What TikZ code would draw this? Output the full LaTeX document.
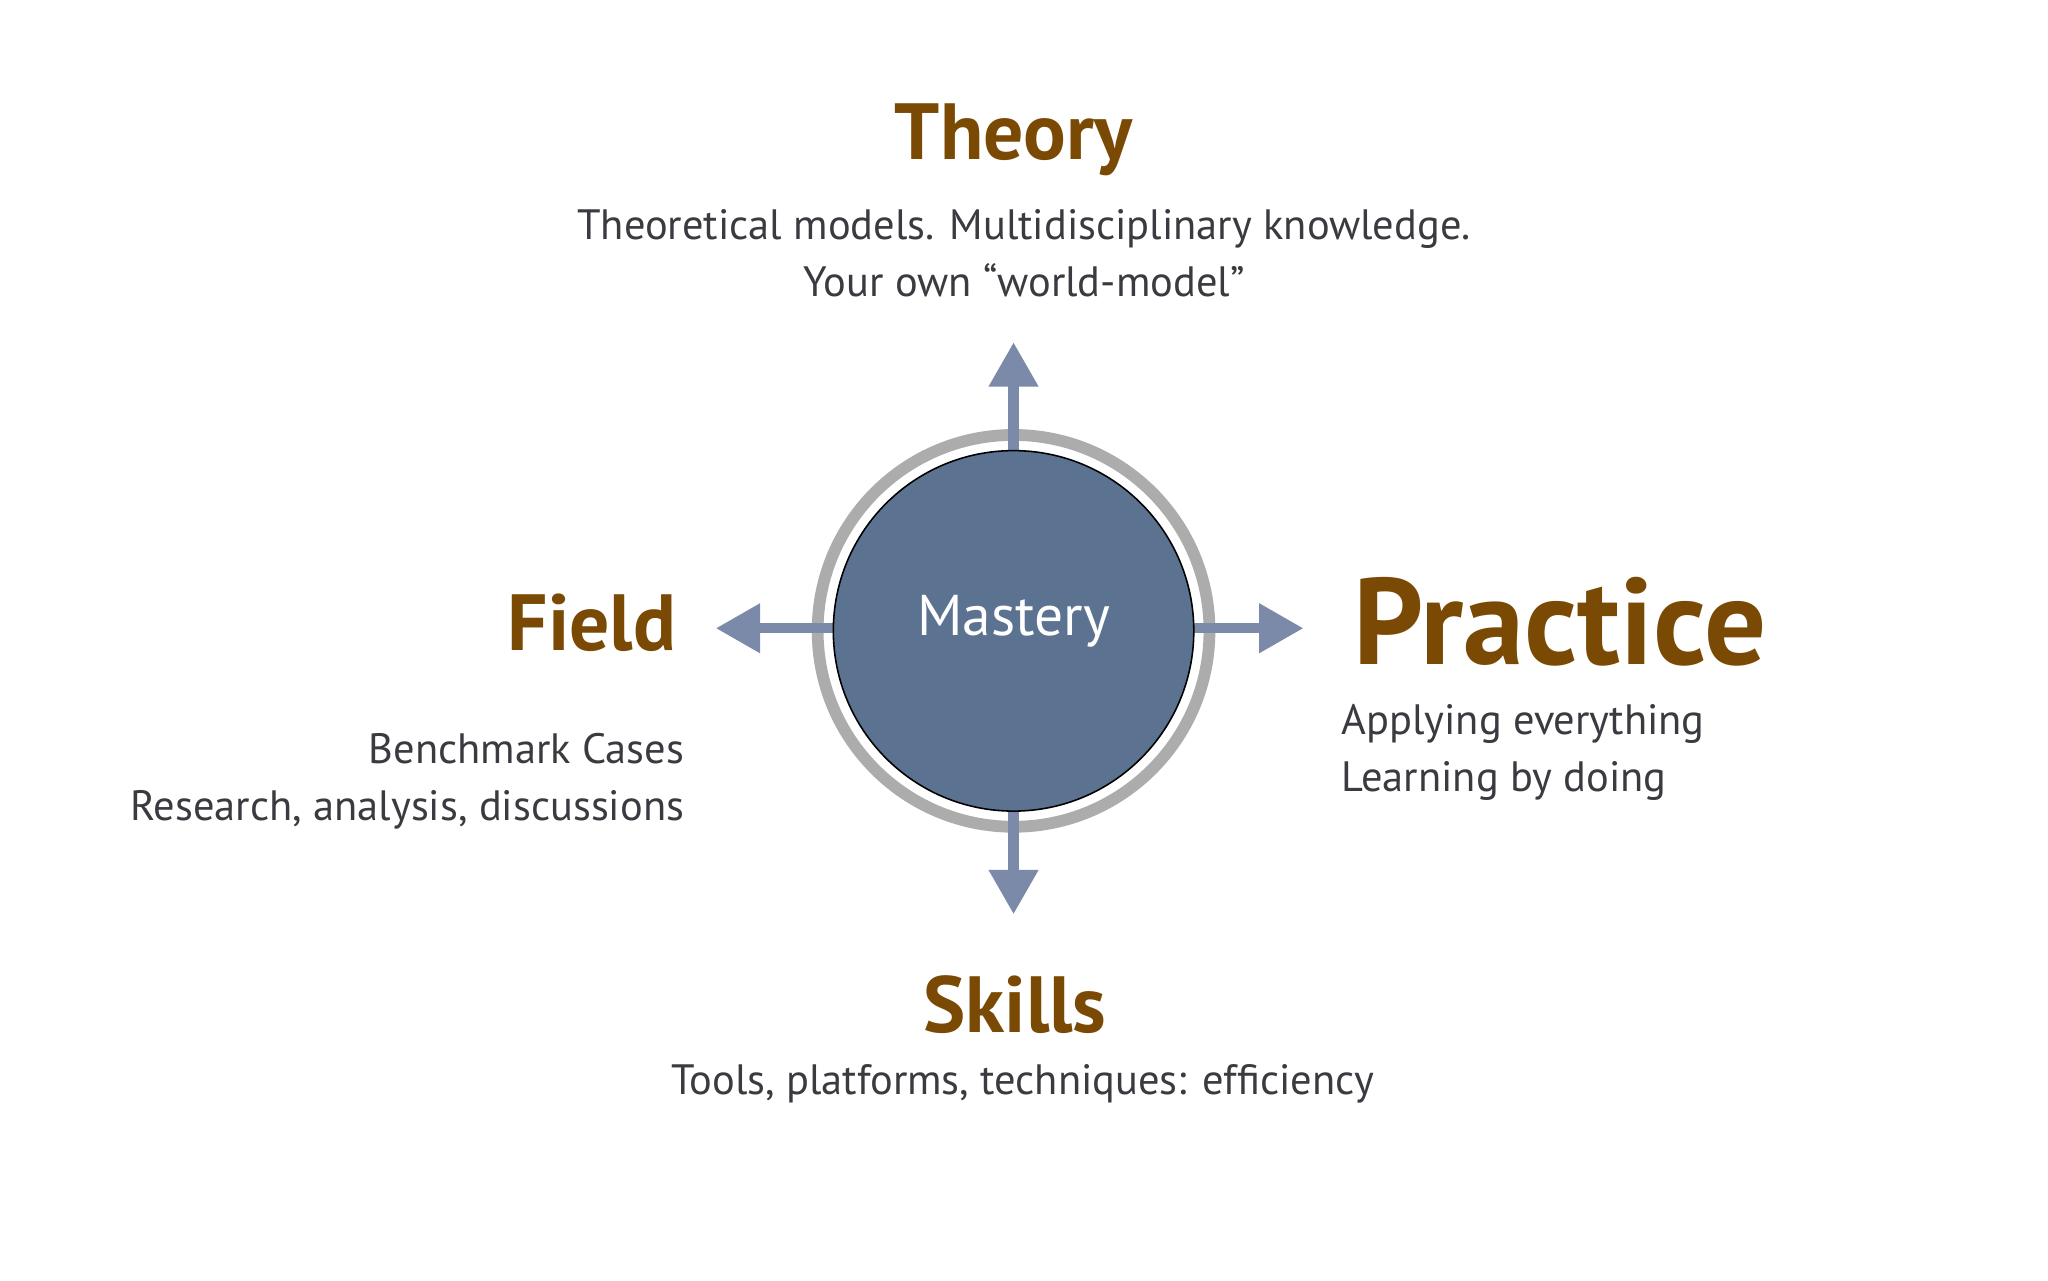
\documentclass[tikz,border=0pt]{standalone}
\usepackage{fontspec}
\setmainfont{PT Sans}
\usetikzlibrary{arrows.meta}
\definecolor{brownT}{HTML}{7A4A05}
\definecolor{bodyT}{HTML}{3A3A40}
\definecolor{arr}{HTML}{7A8AA8}
\definecolor{disc}{HTML}{5B7290}
\begin{document}
\begin{tikzpicture}[x=1pt,y=-1pt,
  title/.style={text=brownT,font=\bfseries\fontsize{61}{64}\selectfont,inner sep=0},
  body/.style={text=bodyT,font=\fontsize{32.5}{44}\selectfont,inner sep=0},
  ray/.style={arr,line width=8pt,-{Triangle[width=36pt,length=34pt]}}]
\useasboundingbox (0,0) rectangle (1568,980);
\fill[white] (0,0) rectangle (1568,980);
\coordinate (c) at (776,483);
\coordinate (tN) at (776,262);
\coordinate (tS) at (776,700);
\coordinate (tW) at (548,481);
\coordinate (tE) at (998,481);
\draw[gray!65,line width=9pt] (c) circle (150);
\draw[ray] (776,400) -- (tN);
\draw[ray] (776,560) -- (tS);
\draw[ray] (700,481) -- (tW);
\draw[ray] (850,481) -- (tE);
\node[circle,draw=black,line width=1.2pt,fill=disc,minimum size=276pt,inner sep=0] (m) at (c) {};
\node[text=white,font=\fontsize{44}{48}\selectfont] (ml) at (776,476) {Mastery};
\node[title] (th) at (776,107) {Theory};
\node[body,align=center] (thb) at (784,194) {Theoretical models. Multidisciplinary knowledge.\\Your own “world-model”};
\node[title,anchor=east] (fi) at (518,477) {Field};
\node[body,align=right,anchor=east] (fib) at (524,598) {Benchmark Cases\\Research, analysis, discussions};
\node[title,font=\bfseries\fontsize{94}{96}\selectfont,anchor=west] (pr) at (1036,476) {Practice};
\node[body,align=left,anchor=west] (prb) at (1027,576) {Applying everything\\Learning by doing};
\node[title] (sk) at (777,769) {Skills};
\node[body] (skb) at (783,830) {Tools, platforms, techniques: efficiency};
\end{tikzpicture}
\end{document}
